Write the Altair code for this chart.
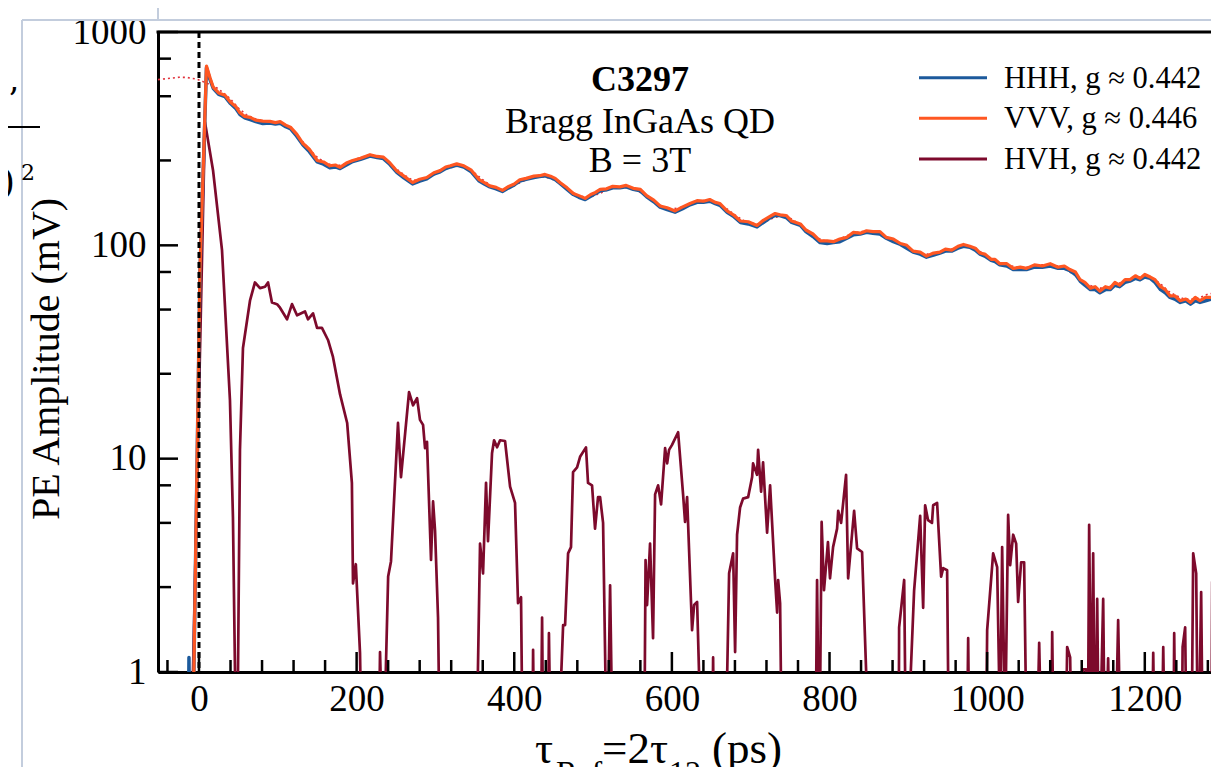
import altair as alt
import pandas as pd

# ---------------- data ----------------
tau_hv = [-14, -12.7, -11.5, -8, -6.5, 1.3, 9.5,
          14, 18, 25, 33, 40, 47, 52, 58, 65, 72,
          81, 90, 97, 103, 110, 116, 124, 132, 140, 150,
          158, 166, 173, 179, 187, 195, 205, 217, 226, 234,
          242, 251, 260, 271, 280, 289, 298, 306, 313, 319,
          327, 336, 345, 355, 362, 369, 377, 385, 393, 400,
          407, 415, 425, 432, 439, 446, 452, 458, 467, 475,
          482, 490, 497, 503, 509, 517, 525, 534, 542, 551,
          560, 568, 577, 585, 594, 604, 613, 623, 632, 640,
          648, 655, 661, 670, 678, 687, 697, 708, 716, 725,
          731, 737, 745, 752, 763, 770, 779, 788, 797, 805,
          813, 822, 830, 839, 847, 855, 864, 872, 881, 890,
          898, 906, 915, 923, 932, 940, 947, 955, 963, 970,
          978, 985, 991, 997, 1005, 1010, 1016, 1025, 1033, 1042,
          1050, 1060, 1070, 1080, 1090, 1098, 1105, 1112, 1118, 1124,
          1131, 1137, 1143, 1150, 1156, 1162, 1168, 1175, 1181, 1188,
          1194, 1200, 1207, 1213, 1220, 1226, 1232, 1238, 1245, 1252,
          1258, 1264, 1270, 1277, 1284, 1290, 1297, 1303]

vvv = [0.3, 0.3, 0.3, 0.3, 1.0, 77, 693,
       610, 552, 518, 505, 468, 446, 418, 402, 398, 386,
       382, 381, 376, 380, 366, 358, 332, 300, 282, 250,
       246, 236, 238, 232, 243, 250, 256, 266, 261, 259,
       244, 223, 211, 197, 204, 208, 219, 224, 233, 236,
       241, 236, 226, 204, 197, 190, 187, 181, 189, 194,
       203, 206, 211, 212, 215, 211, 206, 197, 186, 175,
       171, 166, 173, 177, 183, 184, 189, 188, 191, 185,
       183, 171, 163, 153, 150, 145, 151, 157, 162, 161,
       164, 159, 157, 145, 139, 130, 129, 124, 131, 137,
       141, 139, 138, 130, 126, 118, 113, 105, 105, 104,
       107, 109, 115, 114, 117, 116, 116, 109, 107, 102,
       100, 94, 93, 89, 92, 93, 96, 95, 99, 101,
       99, 97, 92, 91, 86, 86, 82, 82, 78, 79,
       78, 81, 80, 82, 79, 80, 77, 75, 69, 67,
       63, 64, 61, 64, 63, 67, 65, 69, 69, 72,
       70, 73, 71, 69, 64, 62, 58, 58, 55, 56,
       54, 57, 55, 57, 57, 58, 59, 58]

hhh = [0.3, 1.17, 0.3, 0.3, 1.0, 75, 680,
       598, 545, 510, 498, 462, 437, 410, 396, 388, 380,
       372, 374, 370, 373, 360, 352, 325, 295, 275, 246,
       240, 231, 233, 229, 238, 247, 253, 262, 258, 255,
       240, 220, 207, 194, 200, 205, 216, 221, 229, 233,
       238, 233, 222, 201, 194, 188, 184, 179, 186, 192,
       200, 204, 208, 210, 212, 208, 203, 195, 183, 173,
       168, 164, 170, 175, 180, 182, 186, 186, 188, 183,
       180, 169, 160, 151, 147, 143, 148, 155, 159, 159,
       161, 157, 154, 143, 137, 128, 126, 122, 128, 135,
       138, 138, 135, 128, 124, 116, 110, 103, 102, 103,
       104, 108, 112, 113, 115, 114, 113, 108, 104, 101,
       97, 93, 91, 88, 90, 92, 94, 94, 97, 99,
       98, 95, 91, 89, 85, 84, 81, 80, 77, 77,
       77, 79, 79, 80, 78, 78, 76, 73, 68, 65,
       62, 62, 60, 62, 62, 65, 64, 67, 68, 70,
       69, 71, 70, 67, 62, 60, 57, 56, 54, 55,
       53, 55, 54, 55, 56, 55, 57, 56]

tau_hvh = [-9, -7.6, 7.6, 17.8, 29.2, 39.3, 43.1, 45.7, 47, 49.5,
           52, 55.8, 64.7, 71, 77.4, 83.8, 87.6, 92.6, 99, 102.8,
           111.7, 118, 124.4, 134.5, 138.3, 144.7, 149.8, 156, 163.7, 170,
           179, 188, 194, 195.4, 199, 204.3, 207, 227.5, 229.7, 234,
           237, 240, 243.6, 252.5, 256.3, 266.5, 271.6, 276.7, 280.4, 284.3,
           286.8, 289.3, 294.4, 297, 299.5, 303.3, 306, 351.5, 356.6, 360.4,
           364.2, 366.7, 371.8, 374.4, 378.2, 382, 388.3, 394.7, 401, 404.8,
           408.6, 411, 422.6, 423.9, 425.7, 433.4, 435.3, 437.2, 442.2, 444,
           446.7, 454.3, 462, 464.5, 468.3, 472, 474.6, 479.7, 483.5, 491,
           493.6, 498.7, 502.5, 506.3, 508.9, 512.7, 517.8, 521.6, 525.4, 564.7,
           566.6, 568.5, 572.3, 576.1, 578.7, 582.5, 586.3, 591.4, 594, 596.4,
           600.2, 607.9, 614.2, 616.7, 619.3, 625.6, 628.2, 632, 638.3, 650.8,
           652.3, 654, 667.5, 672.6, 677.7, 680.2, 682.7, 686.5, 690.3, 696.7,
           701.8, 703, 708, 709.4, 713.2, 715.7, 720.8, 724.6, 731, 733.5,
           734.8, 737.3, 739.8, 782, 784.2, 787, 790, 793, 798, 800.6,
           804.5, 809.6, 811, 814.7, 821, 823.6, 831.2, 835, 841.3, 846.4,
           848, 887.6, 888.3, 894.7, 897.3, 907.3, 915, 918.8, 921.3, 925,
           930, 931.5, 936.5, 941.6, 944.2, 949.2, 951.8, 974, 975.9, 977.8,
           998.7, 1000, 1007.6, 1012.7, 1016.5, 1019, 1022.8, 1026.6, 1029.2, 1033,
           1036.8, 1039.3, 1043.1, 1046.9, 1050.7, 1062.2, 1066, 1069.8, 1081.2, 1082.5,
           1085, 1099, 1101.5, 1105.3, 1107.8, 1120, 1121.8, 1125.6, 1128.1, 1129.4,
           1132, 1134.5, 1137, 1139.6, 1142, 1147.2, 1149.7, 1153.5, 1156, 1162,
           1166.2, 1170, 1208.5, 1210.7, 1213, 1221, 1223.4, 1226, 1236, 1237.3,
           1239.5, 1246.5, 1248, 1251.2, 1253.5, 1259, 1261.4, 1265.2, 1267.7, 1271.5,
           1274, 1284.3, 1285.5, 1288, 1292, 1294.5, 1297]

hvh = [0.3, 1.0, 378, 225, 95, 18.8, 5.3, 1.0, 0.3, 1.0,
       11, 33, 55, 67, 63, 64, 67, 54, 53, 51,
       45, 53, 47, 49, 45, 48, 41, 41, 36, 30,
       20, 14.7, 7.7, 2.6, 3.2, 1.23, 0.3, 0.3, 1.24, 0.3,
       1.0, 2.8, 3.3, 14.7, 8.2, 20.5, 17.8, 19.2, 15.2, 14.4,
       11.2, 12, 3.35, 6.3, 4.6, 1.8, 0.3, 0.3, 4.0, 2.9,
       7.7, 4.1, 10.6, 12.2, 11.3, 12.2, 12.1, 7.4, 6.2, 2.1,
       2.24, 0.3, 0.3, 1.27, 0.3, 0.3, 1.8, 0.3, 0.3, 1.52,
       0.3, 0.3, 1.66, 1.66, 3.6, 3.85, 8.65, 9.1, 10.2, 11.3,
       7.7, 7.5, 4.7, 6.6, 6.6, 5.0, 0.3, 2.55, 0.3, 0.3,
       3.35, 2.06, 4.0, 1.44, 6.8, 7.5, 6.1, 11.2, 9.5, 11,
       11.6, 13.3, 6.8, 5.05, 6.6, 1.57, 2.06, 2.13, 0.3, 0.3,
       1.17, 0.3, 0.3, 2.9, 3.6, 1.24, 4.4, 5.9, 6.5, 6.6,
       8.2, 9.5, 8.4, 11, 7.0, 9.6, 4.5, 7.5, 2.7, 1.9,
       2.7, 2.1, 0.3, 0.3, 2.7, 0.3, 5.05, 2.42, 4.06, 2.75,
       3.85, 4.7, 5.7, 5.0, 8.4, 2.75, 5.7, 3.8, 3.65, 1.02,
       0.3, 0.3, 1.62, 2.7, 0.3, 2.4, 5.4, 2.0, 6.05, 5.15,
       5.0, 6.05, 6.2, 2.8, 3.07, 3.0, 0.3, 0.3, 1.44, 0.3,
       0.5, 1.57, 3.6, 3.1, 0.5, 3.85, 0.5, 5.45, 3.17, 4.4,
       4.0, 2.13, 3.27, 3.27, 0.3, 0.3, 1.37, 0.3, 0.3, 1.54,
       0.3, 0.3, 1.31, 1.17, 0.3, 0.3, 1.03, 1.03, 0.7, 4.9,
       0.5, 3.6, 0.3, 2.2, 0.3, 2.2, 0.3, 1.16, 0.3, 0.3,
       1.75, 0.3, 0.3, 1.23, 0.3, 0.3, 1.31, 0.3, 0.3, 1.52,
       0.3, 0.3, 1.31, 1.62, 0.3, 0.3, 3.6, 2.9, 0.3, 2.37,
       0.3, 0.3, 2.64, 0.3, 0.3, 1.8, 0.3]

tau_fit = [-52, -40, -25, -15, -5, 0, 10, 20, 30, 40,
           50, 60, 70, 80, 90, 100, 110, 120, 130, 140,
           150, 160, 170, 180, 190, 200, 210, 220, 230, 240,
           250, 260, 270, 280, 290, 300, 310, 320, 330, 340,
           350, 360, 370, 380, 390, 400, 410, 420, 430, 440,
           450, 460, 470, 480, 490, 500, 510, 520, 530, 540,
           550, 560, 570, 580, 590, 600, 610, 620, 630, 640,
           650, 660, 670, 680, 690, 700, 710, 720, 730, 740,
           750, 760, 770, 780, 790, 800, 810, 820, 830, 840,
           850, 860, 870, 880, 890, 900, 910, 920, 930, 940,
           950, 960, 970, 980, 990, 1000, 1010, 1020, 1030, 1040,
           1050, 1060, 1070, 1080, 1090, 1100, 1110, 1120, 1130, 1140,
           1150, 1160, 1170, 1180, 1190, 1200, 1210, 1220, 1230, 1240,
           1250, 1260, 1270, 1280, 1290, 1300]
fit = [598, 605, 614, 612, 603, 596, 575, 556, 522, 485,
       440, 410, 393, 385, 381, 375, 362, 340, 311, 282,
       259, 244, 237, 237, 244, 254, 262, 264, 258, 245,
       229, 214, 203, 201, 206, 216, 226, 233, 235, 230,
       218, 203, 191, 184, 184, 190, 199, 206, 210, 209,
       203, 193, 181, 172, 168, 170, 176, 183, 187, 187,
       184, 177, 168, 158, 151, 148, 150, 155, 160, 162,
       161, 156, 148, 139, 131, 127, 126, 130, 135, 138,
       134, 127, 119, 111, 106, 104, 106, 110, 114, 116,
       116, 114, 110, 106, 102, 97, 93, 91, 91, 93,
       95, 97, 98, 98, 94, 89, 85, 82, 80, 79,
       79, 80, 81, 81, 80, 77, 73, 68, 65, 63,
       63, 65, 67, 69, 71, 71, 70, 66, 61, 58,
       56, 56, 57, 59, 60, 61]

x_major = [0, 200, 400, 600, 800, 1000, 1200]
x_minor = [-40, 40, 80, 120, 160, 240, 280, 320, 360, 440, 480, 520, 560,
           640, 680, 720, 760, 840, 880, 920, 960, 1040, 1080, 1120, 1160,
           1240, 1280]
y_major = [1, 10, 100, 1000]
y_minor = [2.5, 5, 7.5, 25, 50, 75, 250, 500, 750]
t_zero = [0]

series_names = ["HHH, g \u2248 0.442", "VVV, g \u2248 0.446", "HVH, g \u2248 0.442"]
series_colors = ["#1c5a9c", "#ff5722", "#7d0a2c"]
annot_lines = ["C3297", "Bragg InGaAs QD", "B = 3T"]
y_title = "PE Amplitude (mV)"

# ---------------- layout ----------------
W, H = 1053, 640
FONT = "Liberation Serif"
xs = alt.Scale(domain=[-52, 1284], nice=False, zero=False)
ys = alt.Scale(type="log", domain=[1, 1000], nice=False)

X = alt.X("t:Q", scale=xs, title="",
          axis=alt.Axis(values=x_major, format="d", ticks=False, tickSize=0, grid=False,
                        domainColor="black", domainWidth=3, labelFont=FONT,
                        labelFontSize=37, labelColor="black", labelPadding=9,
                        labelFlush=False, labelOverlap=False))
Y = alt.Y("v:Q", scale=ys, title="",
          axis=alt.Axis(values=y_major, format="d", ticks=False, tickSize=0, grid=False,
                        domainColor="black", domainWidth=3, labelFont=FONT,
                        labelFontSize=37, labelColor="black", labelPadding=12,
                        labelFlush=False, labelOverlap=False))


def df(t, v):
    return pd.DataFrame({"t": t, "v": v})


fit_line = alt.Chart(df(tau_fit, fit)).mark_line(
    color="#e0303a", strokeWidth=1.6, strokeDash=[2, 3], clip=True
).encode(x=X, y=Y)

hvh_line = alt.Chart(df(tau_hvh, hvh)).mark_line(
    color=series_colors[2], strokeWidth=2.7, clip=True, strokeJoin="round"
).encode(x=X, y=Y)

hhh_line = alt.Chart(df(tau_hv, hhh)).mark_line(
    color=series_colors[0], strokeWidth=3.5, clip=True, strokeJoin="round"
).encode(x=X, y=Y)

vvv_line = alt.Chart(df(tau_hv, vvv)).mark_line(
    color=series_colors[1], strokeWidth=3.2, clip=True, strokeJoin="round"
).encode(x=X, y=Y)

zero_line = alt.Chart(pd.DataFrame({"t": t_zero})).mark_rule(
    color="black", strokeWidth=3, strokeDash=[6, 4]
).encode(x=X, y=alt.value(0), y2=alt.value(H))

xt_major = alt.Chart(pd.DataFrame({"t": x_major})).mark_rule(color="black", strokeWidth=2.5).encode(
    x=X, y=alt.value(H), y2=alt.value(H - 20))
xt_minor = alt.Chart(pd.DataFrame({"t": x_minor})).mark_rule(color="black", strokeWidth=2.5).encode(
    x=X, y=alt.value(H), y2=alt.value(H - 12))
yt_major = alt.Chart(pd.DataFrame({"v": y_major})).mark_rule(color="black", strokeWidth=2.5).encode(
    y=Y, x=alt.value(0), x2=alt.value(20))
yt_minor = alt.Chart(pd.DataFrame({"v": y_minor})).mark_rule(color="black", strokeWidth=2.5).encode(
    y=Y, x=alt.value(0), x2=alt.value(13))

top_border = alt.Chart().mark_rule(color="black", strokeWidth=3).encode(
    x=alt.value(-1.5), x2=alt.value(W), y=alt.value(0))

layers = [fit_line, hvh_line, hhh_line, vvv_line, zero_line,
          xt_major, xt_minor, yt_major, yt_minor, top_border]

# annotation block
for i, (txt, yy) in enumerate(zip(annot_lines, [48, 90, 129])):
    layers.append(alt.Chart().mark_text(
        font=FONT, fontSize=36, fontWeight="bold" if i == 0 else "normal",
        color="black", align="center", baseline="middle"
    ).encode(x=alt.value(482), y=alt.value(yy), text=alt.value(txt)))

# legend
for name, col, yy in zip(series_names, series_colors, [45.7, 86.3, 127]):
    layers.append(alt.Chart().mark_rule(color=col, strokeWidth=3).encode(
        x=alt.value(761), x2=alt.value(829), y=alt.value(yy)))
    layers.append(alt.Chart().mark_text(
        font=FONT, fontSize=30.5, color="black", align="left", baseline="middle"
    ).encode(x=alt.value(846), y=alt.value(yy + 1), text=alt.value(name)))

# y-axis title
layers.append(alt.Chart().mark_text(
    font=FONT, fontSize=40, color="black", angle=270, align="center", baseline="middle"
).encode(x=alt.value(-111), y=alt.value(327), text=alt.value(y_title)))

# x-axis title: tau_Ref = 2 tau_12 (ps)
xt_parts = [("\u03c4", 377, 731, 45), ("Ref", 398, 751, 32), ("=2\u03c4", 444, 731, 45),
            ("12", 511, 751, 32), ("(ps)", 554, 731, 45)]
for txt, xx, yy, fs in xt_parts:
    layers.append(alt.Chart().mark_text(
        font=FONT, fontSize=fs, color="black", align="left", baseline="alphabetic"
    ).encode(x=alt.value(xx), y=alt.value(yy), text=alt.value(txt)))

# surrounding page fragments visible in the screenshot
CHROME = "#c3cddd"
layers.append(alt.Chart().mark_rule(color=CHROME, strokeWidth=2).encode(
    x=alt.value(-136), x2=alt.value(W), y=alt.value(-12)))
layers.append(alt.Chart().mark_rule(color=CHROME, strokeWidth=2).encode(
    x=alt.value(-136), y=alt.value(-12), y2=alt.value(H + 100)))
layers.append(alt.Chart().mark_rule(color=CHROME, strokeWidth=2).encode(
    x=alt.value(0), y=alt.value(-40), y2=alt.value(-12)))
layers.append(alt.Chart().mark_rule(color="black", strokeWidth=2).encode(
    x=alt.value(-152), x2=alt.value(-118), y=alt.value(95)))
layers.append(alt.Chart().mark_text(
    font="DejaVu Serif", fontSize=36, color="black", align="left", baseline="alphabetic"
).encode(x=alt.value(-157), y=alt.value(162), text=alt.value(")")))
layers.append(alt.Chart().mark_text(
    font="DejaVu Serif", fontSize=22, color="black", align="left", baseline="alphabetic"
).encode(x=alt.value(-137), y=alt.value(148), text=alt.value("2")))
layers.append(alt.Chart().mark_text(
    font="DejaVu Serif", fontSize=34, color="black", align="left", baseline="alphabetic"
).encode(x=alt.value(-150), y=alt.value(80), text=alt.value("\u2019")))

chart = alt.layer(*layers).properties(
    width=W, height=H,
    autosize=alt.AutoSizeParams(type="none"),
    padding={"left": 150, "top": 24, "right": 0, "bottom": 95},
    background="white",
).configure_view(stroke="transparent")

chart.save("out.html", embed_options={"renderer": "svg", "actions": False})
